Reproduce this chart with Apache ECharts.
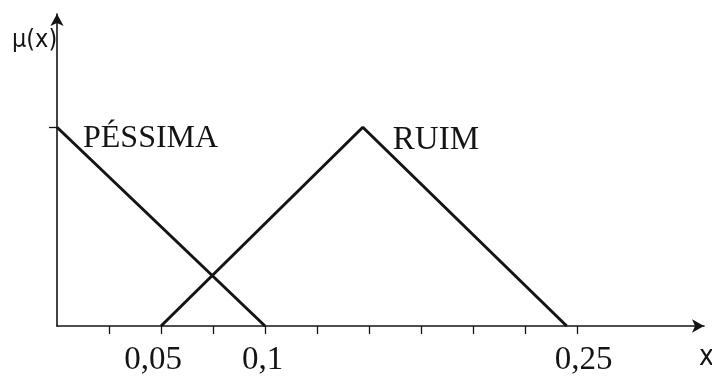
<!DOCTYPE html>
<html>
<head>
<meta charset="utf-8">
<script src="https://cdn.jsdelivr.net/npm/echarts@6/dist/echarts.min.js"></script>
<style>
  html, body { margin: 0; padding: 0; background: #fff; }
  #chart { width: 712px; height: 377px; }
</style>
</head>
<body>
<div id="chart"></div>
<script>
// Fuzzy membership functions μ(x): "PÉSSIMA" and "RUIM"
const pessimaX = [0, 0.1];
const pessimaY = [1, 0];
const ruimX = [0.05, 0.147, 0.245];
const ruimY = [0, 1, 0];

// Axis tick positions and the labelled ticks
const tickValues = [0.025, 0.05, 0.075, 0.1, 0.125, 0.15, 0.175, 0.2, 0.225, 0.25];
const labelValues = [0.05, 0.1, 0.25];
const labelTexts = ['0,05', '0,1', '0,25'];
// rich-text style key per label (small horizontal nudges)
const labelStyles = ['l', 'm', 'r'];

const ink = '#141414';
const serif = '"Liberation Serif", "Times New Roman", serif';
const sans = '"Liberation Sans Narrow", "DejaVu Sans Condensed", "Liberation Sans", sans-serif';

const zip = (xs, ys) => xs.map((x, i) => [x, ys[i]]);

const tickFont = { color: ink, fontFamily: serif, fontSize: 33 };

const chart = echarts.init(document.getElementById('chart'), null, { renderer: 'canvas' });

chart.setOption({
  animation: false,
  backgroundColor: '#ffffff',
  grid: { left: 57, right: 8, top: 14, bottom: 43, containLabel: false },
  xAxis: {
    type: 'value',
    min: 0,
    max: 0.311,
    splitLine: { show: false },
    axisLine: {
      show: true,
      onZero: false,
      symbol: ['none', 'arrow'],
      symbolSize: [10, 12],
      lineStyle: { color: ink, width: 1.6 }
    },
    axisTick: {
      show: true,
      length: 8,
      customValues: tickValues,
      lineStyle: { color: ink, width: 1.3 }
    },
    axisLabel: {
      show: true,
      customValues: labelValues,
      margin: 18,
      color: ink,
      fontFamily: serif,
      fontSize: 33,
      rich: {
        l: Object.assign({ padding: [0, 16, 0, 0] }, tickFont),
        m: Object.assign({ padding: [0, 5, 0, 0] }, tickFont),
        r: Object.assign({ padding: [0, 0, 0, 13] }, tickFont)
      },
      formatter: v => {
        const i = labelValues.findIndex(l => Math.abs(l - v) < 1e-9);
        return i >= 0 ? '{' + labelStyles[i] + '|' + labelTexts[i] + '}' : '';
      }
    }
  },
  yAxis: {
    type: 'value',
    min: 0,
    max: 1.57,
    splitLine: { show: false },
    axisLine: {
      show: true,
      onZero: false,
      symbol: ['none', 'arrow'],
      symbolSize: [10, 12],
      lineStyle: { color: ink, width: 1.6 }
    },
    axisTick: {
      show: true,
      length: 8,
      customValues: [1],
      lineStyle: { color: ink, width: 1.3 }
    },
    axisLabel: { show: false }
  },
  graphic: [
    {
      type: 'text',
      left: 12,
      top: 28,
      style: { text: 'μ(x)', font: '25px ' + sans, fill: ink }
    },
    {
      type: 'text',
      left: 699,
      top: 344,
      style: { text: 'x', font: '28px ' + sans, fill: ink }
    }
  ],
  series: [
    {
      name: 'PÉSSIMA',
      type: 'line',
      data: zip(pessimaX, pessimaY),
      symbol: 'circle',
      symbolSize: 0,
      showSymbol: true,
      clip: false,
      lineStyle: { color: ink, width: 3 },
      itemStyle: { color: ink },
      label: {
        show: true,
        position: 'right',
        distance: 5,
        offset: [21, 11],
        color: ink,
        fontFamily: serif,
        fontSize: 32,
        formatter: p => (p.dataIndex === 0 ? 'PÉSSIMA' : '')
      }
    },
    {
      name: 'RUIM',
      type: 'line',
      data: zip(ruimX, ruimY),
      symbol: 'circle',
      symbolSize: 0,
      showSymbol: true,
      clip: false,
      lineStyle: { color: ink, width: 3 },
      itemStyle: { color: ink },
      label: {
        show: true,
        position: 'right',
        distance: 5,
        offset: [25, 13],
        color: ink,
        fontFamily: serif,
        fontSize: 33,
        formatter: p => (p.dataIndex === 1 ? 'RUIM' : '')
      }
    }
  ]
});
</script>
</body>
</html>
